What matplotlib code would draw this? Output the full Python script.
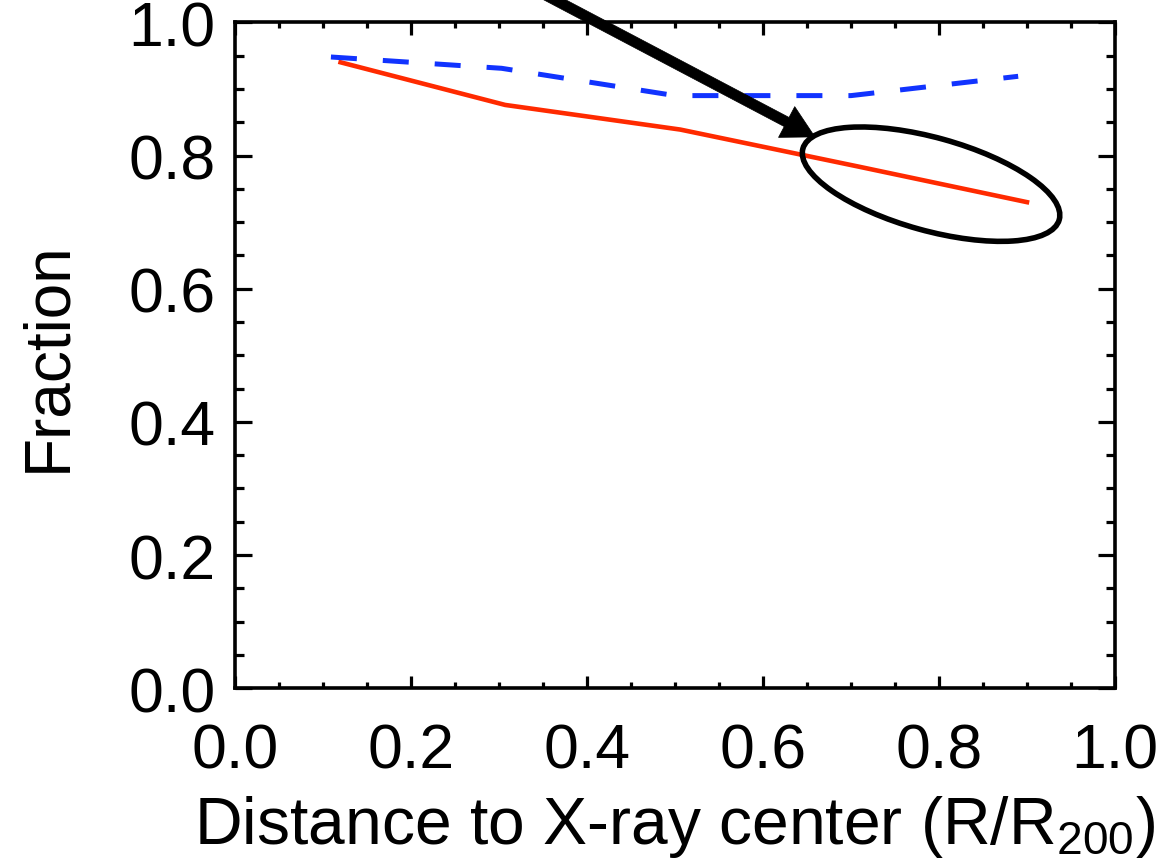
import matplotlib
matplotlib.use("Agg")
import matplotlib.pyplot as plt
from matplotlib.patches import Ellipse
from matplotlib.ticker import MultipleLocator
from matplotlib.transforms import IdentityTransform

plt.rcParams['font.family'] = ['Liberation Sans', 'DejaVu Sans']
plt.rcParams['mathtext.fontset'] = 'custom'
plt.rcParams['mathtext.rm'] = 'Liberation Sans'
plt.rcParams['mathtext.it'] = 'Liberation Sans:italic'

# data
red_x = [0.12, 0.307, 0.506, 0.71, 0.90]
red_y = [0.940, 0.876, 0.839, 0.783, 0.730]
blue_x = [0.109, 0.303, 0.50, 0.70, 0.89]
blue_y = [0.948, 0.931, 0.890, 0.890, 0.919]

x_ticks = [0.0, 0.2, 0.4, 0.6, 0.8, 1.0]
y_ticks = [0.0, 0.2, 0.4, 0.6, 0.8, 1.0]
x_label = r"Distance to X-ray center (R/R$_{\mathrm{200}}$)"
y_label = "Fraction"

fig = plt.figure(figsize=(11.68, 8.62), dpi=100)
ax = fig.add_axes([0.2012, 0.2004, 0.7534, 0.7725])

ax.plot(red_x, red_y, color='#ff2a00', lw=3.3, solid_joinstyle='round')
ax.plot(blue_x, blue_y, color='#1133ff', lw=3.6, linestyle=(0, (5.2, 5.2)))

ax.set_xlim(0, 1)
ax.set_ylim(0, 1)
ax.set_xticks(x_ticks)
ax.set_yticks(y_ticks)
ax.set_xticklabels([f"{v:.1f}" for v in x_ticks])
ax.set_yticklabels([f"{v:.1f}" for v in y_ticks])
ax.xaxis.set_minor_locator(MultipleLocator(0.05))
ax.yaxis.set_minor_locator(MultipleLocator(0.05))

for s in ax.spines.values():
    s.set_linewidth(2.6)

ax.tick_params(axis='both', which='both', direction='in', top=True, right=True, width=2.3)
ax.tick_params(axis='x', which='major', length=9, pad=24, labelsize=45)
ax.tick_params(axis='x', which='minor', length=4.5)
ax.tick_params(axis='y', which='major', length=12.5, pad=14, labelsize=45)
ax.tick_params(axis='y', which='minor', length=6.5)

ax.set_xlabel(x_label, fontsize=47.5, labelpad=9)
ax.set_ylabel(y_label, fontsize=46, labelpad=36)

# ellipse highlighting the outer region (drawn in pixel units around a data-centre)
fig.canvas.draw()
cx, cy = ax.transData.transform((0.791, 0.757))
ell = Ellipse((cx, cy), 266, 93, angle=-15.5, transform=IdentityTransform(),
              fill=False, edgecolor='black', lw=4.0, clip_on=False)
fig.patches.append(ell)
ell.set_figure(fig)

ax.annotate("", xy=(0.659, 0.828), xytext=(0.30, 1.078), xycoords='data', textcoords='data',
            annotation_clip=False,
            arrowprops=dict(width=7.4, headwidth=25, headlength=23, facecolor='black',
                            edgecolor='black', shrink=0, lw=0.5))

fig.savefig("out.png", dpi=100)
